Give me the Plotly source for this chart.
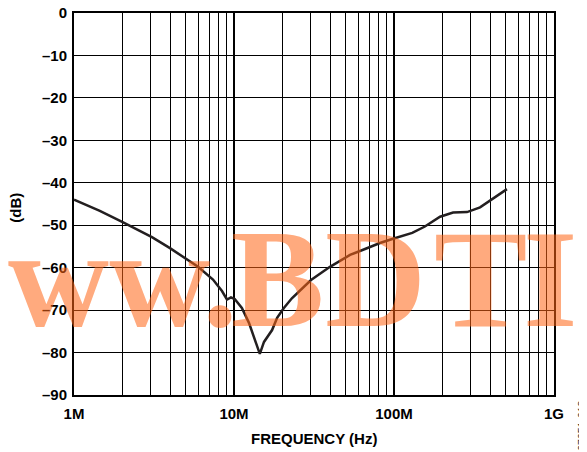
import plotly.graph_objects as go

# ─── Datos ──────────────────────────────────────────────────
freq_mhz = [1.0, 1.45, 2.0, 3.07, 3.98, 4.94, 5.96, 7.39, 8.41, 9.04, 9.57,
            10.1, 11.2, 12.4, 13.5, 14.5, 15.4, 16.3, 17.3, 18.6, 20.5, 23.0,
            30.3, 39.8, 48.0, 53.1, 65.9, 81.7, 98.6, 130, 156, 194, 234,
            286, 345, 416, 508]
gain_db = [-44.0, -46.6, -49.2, -52.8, -55.4, -57.7, -59.8, -62.8, -65.5,
           -67.5, -67.0, -67.4, -69.5, -73.0, -77.0, -80.3, -77.5, -76.2,
           -74.7, -71.8, -69.5, -67.2, -62.9, -59.8, -58.0, -57.0, -55.6,
           -54.2, -53.2, -51.8, -50.3, -48.0, -47.0, -46.9, -45.8, -43.7,
           -41.5]

x_ticks = [1e6, 1e7, 1e8, 1e9]
x_labels = ["1M", "10M", "100M", "1G"]
y_ticks = [0, -10, -20, -30, -40, -50, -60, -70, -80, -90]
y_labels = ["0", "–10", "–20", "–30", "–40", "–50", "–60", "–70", "–80", "–90"]

freq_hz = [f * 1e6 for f in freq_mhz]
minor_vals = [d * m for d in x_ticks[:-1] for m in range(2, 10)]

FONT = "Liberation Sans, Arial, sans-serif"
SERIF = "Liberation Serif, Times New Roman, serif"
WM_COLOR = "rgba(255,100,20,0.55)"

fig = go.Figure()

fig.add_trace(go.Scatter(
    x=freq_hz, y=gain_db, mode="lines",
    line=dict(color="#231f20", width=2.5),
    showlegend=False, hoverinfo="skip"
))

# la página deja 8px de margen en el body: se compensa con el tamaño
fig.update_layout(
    width=579, height=444,
    paper_bgcolor="white", plot_bgcolor="white",
    margin=dict(l=66, r=33, t=5, b=57, autoexpand=False),
    font=dict(family=FONT, color="black"),
    xaxis=dict(
        type="log", range=[6, 9], automargin=False,
        tickvals=x_ticks, ticktext=[f"<b>{t}</b>" for t in x_labels],
        tickfont=dict(size=15), ticks="", ticklabelstandoff=4,
        ticklabeloverflow="allow",
        showgrid=True, gridcolor="black", gridwidth=2,
        minor=dict(tickvals=minor_vals, showgrid=True, gridcolor="black",
                   gridwidth=1.2, ticks=""),
        showline=True, linecolor="black", linewidth=2, mirror=True,
        zeroline=False,
    ),
    yaxis=dict(
        range=[-90, 0], automargin=False,
        tickvals=y_ticks, ticktext=[f"<b>{t}</b>" for t in y_labels],
        tickfont=dict(size=15), ticks="", ticklabelstandoff=2,
        ticklabeloverflow="allow",
        showgrid=True, gridcolor="black", gridwidth=1.3,
        showline=True, linecolor="black", linewidth=2, mirror=True,
        zeroline=False,
    ),
)

fig.add_annotation(
    text="<b>FREQUENCY (Hz)</b>", xref="paper", yref="paper",
    x=0.499, y=-0.115, xanchor="center", yanchor="middle", showarrow=False,
    font=dict(size=15),
)
fig.add_annotation(
    text="<b>(dB)</b>", xref="paper", yref="paper",
    x=-0.121, y=0.49, xanchor="center", yanchor="middle", showarrow=False,
    textangle=-90, font=dict(size=15),
)

# ─── Marca de agua (letra a letra para ajustar el espaciado) ─
fig.add_annotation(
    text="<b>www.</b>", xref="paper", yref="paper",
    x=0.346, y=0.304, xanchor="right", yanchor="middle", showarrow=False,
    font=dict(family=SERIF, size=140, color=WM_COLOR),
)
for ch, xp in [("B", 0.424), ("D", 0.629), ("T", 0.846), ("I", 0.992), ("C", 1.146)]:
    fig.add_annotation(
        text=f"<b>{ch}</b>", xref="paper", yref="paper",
        x=xp, y=0.304, xanchor="center", yanchor="middle", showarrow=False,
        font=dict(family=SERIF, size=140, color=WM_COLOR),
    )

fig.add_annotation(
    text="07051-013", xref="paper", yref="paper",
    x=1.058, y=-0.081, xanchor="center", yanchor="middle", showarrow=False,
    textangle=-90, font=dict(size=10.5, color="#333"),
)

fig.write_html("out.html")
